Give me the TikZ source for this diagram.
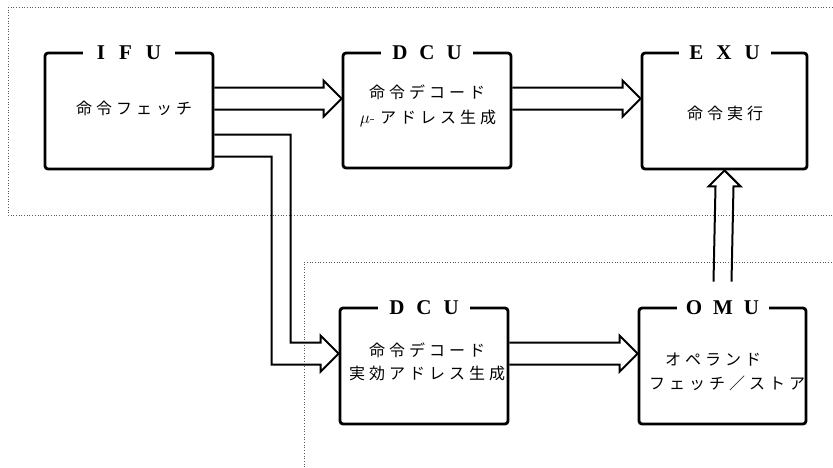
\documentclass[tikz,border=0pt]{standalone}
\usepackage{fontspec}
\newfontfamily\jp[LetterSpace=25]{Noto Sans CJK JP}
\newfontfamily\ttl{Liberation Serif}
\usetikzlibrary{calc}
\begin{document}
\begin{tikzpicture}[x=1pt,y=-1pt,
  unitbox/.style={draw, line width=2.8pt, rounded corners=3pt, inner sep=0pt},
  unittitle/.style={fill=white, inner sep=0pt, minimum width=92pt, minimum height=8pt,
    font=\fontsize{21}{21}\selectfont\ttl\bfseries},
  jtext/.style={font=\fontsize{16}{20}\selectfont\jp, inner sep=0pt},
  conn/.style={line width=2pt, line join=miter},
  guide/.style={black!65, line width=0.7pt, dotted}]
\fill[white] (0,0) rectangle (833,467);
\useasboundingbox (0,0) rectangle (833,467);

% dotted guide lines
\draw[guide] (8,7) -- (833,7);
\draw[guide] (8,7) -- (8,215) -- (833,215);
\draw[guide] (304,467) -- (304,262) -- (833,262);

% boxes
\node[unitbox, minimum width=168pt, minimum height=116pt] (ifu)  at (129,111) {};
\node[unitbox, minimum width=168pt, minimum height=115pt] (dcu1) at (427,110.5) {};
\node[unitbox, minimum width=165pt, minimum height=116pt] (exu)  at (724.5,111) {};
\node[unitbox, minimum width=168pt, minimum height=116pt] (dcu2) at (424,366) {};
\node[unitbox, minimum width=167pt, minimum height=116pt] (omu)  at (722.5,366) {};

% titles
\node[unittitle] (ifut)  at ($(ifu.north)+(0,1.5)$)  {I\hspace{14pt}F\hspace{14pt}U};
\node[unittitle] (dcu1t) at ($(dcu1.north)+(0,1.5)$) {D\hspace{12pt}C\hspace{12pt}U};
\node[unittitle] (exut)  at ($(exu.north)+(0,1.5)$)  {E\hspace{13pt}X\hspace{13pt}U};
\node[unittitle] (dcu2t) at ($(dcu2.north)+(0,1.5)$) {D\hspace{12pt}C\hspace{12pt}U};
\node[unittitle] (omut)  at ($(omu.north)+(0,1.5)$)  {O\hspace{11pt}M\hspace{11pt}U};

% texts
\node[jtext] (ifux)  at (134,108) {命令フェッチ};
\node[jtext] (dcu1a) at (427,92)  {命令デコード};
\node[jtext] (dcu1b) at (428,118) {{\normalfont$\mu$-}\hspace{5pt}アドレス生成};
\node[jtext] (exux)  at (725,113) {命令実行};
\node[jtext] (dcu2a) at (427,350) {命令デコード};
\node[jtext] (dcu2b) at (427,373) {実効アドレス生成};
\node[jtext] (omua)  at (713,360) {オペランド};
\node[jtext] (omub)  at (727,383) {フェッチ／ストア};

% tips
\coordinate (t1) at ($(dcu1.north west)+(0,47)$);
\coordinate (t2) at ($(exu.north west)+(0,47)$);
\coordinate (t3) at ($(omu.north west)+(0,47)$);
\coordinate (t4) at ($(dcu2.north west)+(0,47)$);

% IFU -> DCU (top)
\draw[conn] ($(ifu.east |- t1)+(0,-11)$) -- ($(t1)+(-18,-11)$) -- ++(0,-7) -- (t1)
  -- ($(t1)+(-18,18)$) -- ++(0,-7) -- ($(ifu.east |- t1)+(0,11)$);
% DCU -> EXU
\draw[conn] ($(dcu1.east |- t2)+(0,-11)$) -- ($(t2)+(-18,-11)$) -- ++(0,-7) -- (t2)
  -- ($(t2)+(-18,18)$) -- ++(0,-7) -- ($(dcu1.east |- t2)+(0,11)$);
% DCU -> OMU
\draw[conn] ($(dcu2.east |- t3)+(0,-11)$) -- ($(t3)+(-18,-11)$) -- ++(0,-7) -- (t3)
  -- ($(t3)+(-18,18)$) -- ++(0,-7) -- ($(dcu2.east |- t3)+(0,11)$);
% IFU -> DCU (bottom), bent
\draw[conn] ($(ifu.north east)+(0,83)$) -| ($(t4)+(-48,-11)$) -- ($(t4)+(-18,-11)$) -- ++(0,-7) -- (t4)
  -- ($(t4)+(-18,18)$) -- ++(0,-7) -- ($(t4)+(-67,11)$) |- ($(ifu.north east)+(0,105)$);
% OMU -> EXU
\draw[conn] ($(omu.north)+(-9,-25)$) -- ($(exu.south)+(-9,16)$) -- ++(-7,0) -- (exu.south)
  -- ($(exu.south)+(16,16)$) -- ++(-7,0) -- ($(omu.north)+(9,-25)$);
\end{tikzpicture}
\end{document}
